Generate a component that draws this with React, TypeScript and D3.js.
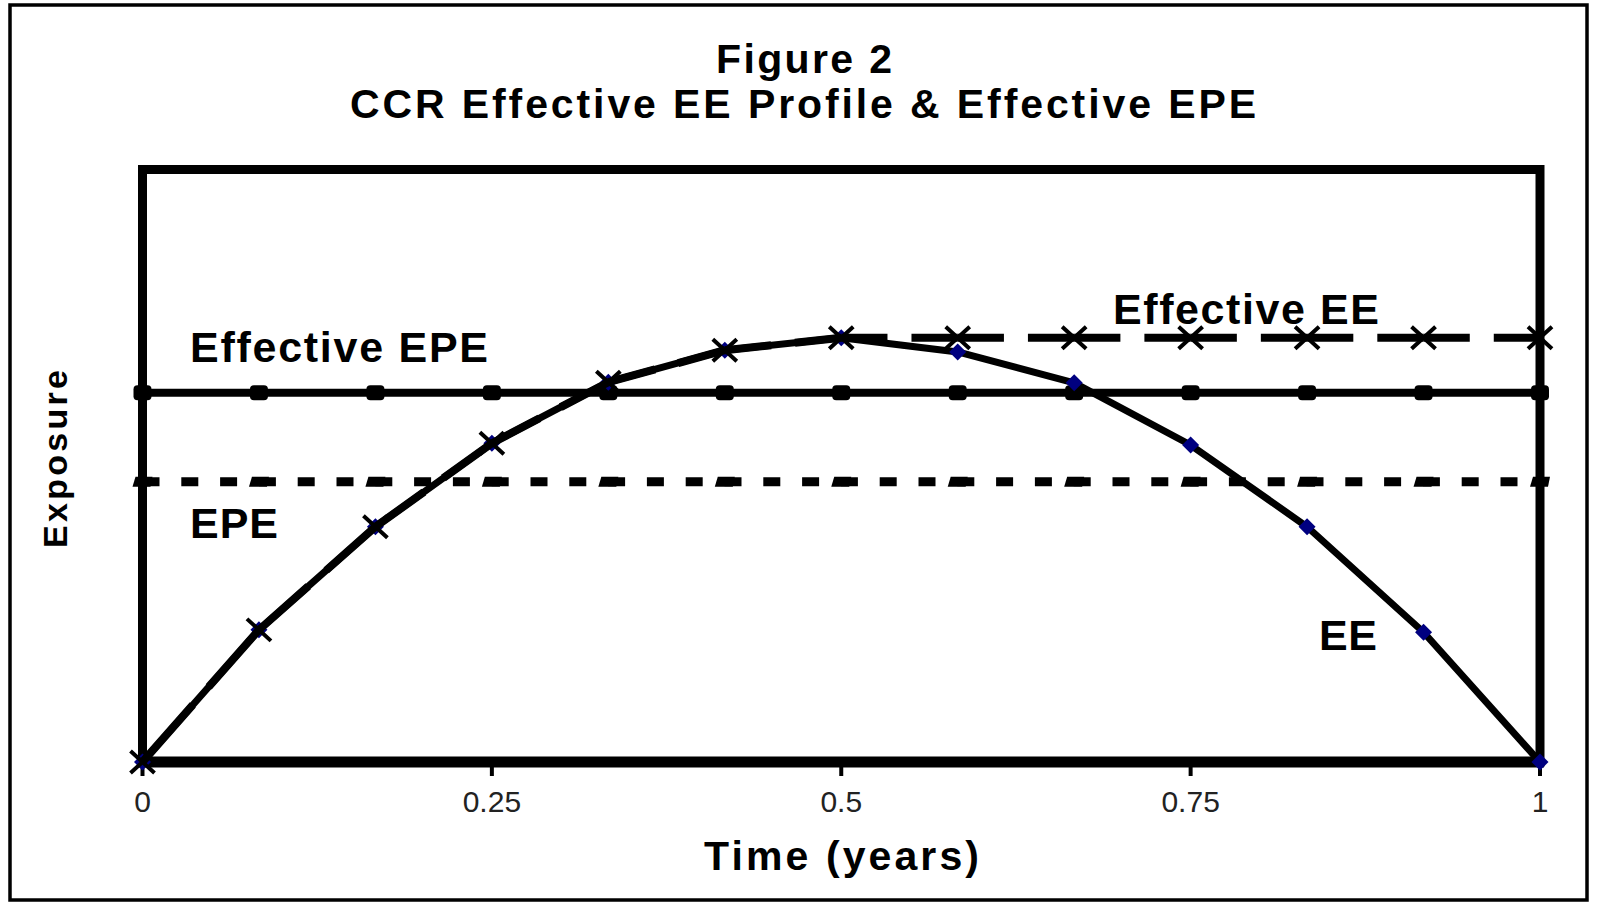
import React from 'react'
import * as d3 from 'd3'

// time points (years), monthly
const times = [0, 1 / 12, 2 / 12, 3 / 12, 4 / 12, 5 / 12, 6 / 12, 7 / 12, 8 / 12, 9 / 12, 10 / 12, 11 / 12, 1]
// exposure values (arbitrary units, 0..100 = plot height)
const ee = [0, 22.3, 39.7, 53.8, 64.1, 69.5, 71.6, 69.2, 64.0, 53.5, 39.7, 21.9, 0]
const effectiveEE = [0, 22.3, 39.7, 53.8, 64.1, 69.5, 71.6, 71.6, 71.6, 71.6, 71.6, 71.6, 71.6]
const effectiveEPE = [62.3, 62.3, 62.3, 62.3, 62.3, 62.3, 62.3, 62.3, 62.3, 62.3, 62.3, 62.3, 62.3]
const epe = [47.3, 47.3, 47.3, 47.3, 47.3, 47.3, 47.3, 47.3, 47.3, 47.3, 47.3, 47.3, 47.3]
const xTicks = [0, 0.25, 0.5, 0.75, 1]

const W = 1604
const H = 904
const FONT = '"Liberation Sans", Arial, sans-serif'

export default function App() {
  const x = d3.scaleLinear().domain([0, 1]).range([142.5, 1540])
  const y = d3.scaleLinear().domain([0, 100]).range([762, 169.5])

  const pts = (vals: number[]) => times.map((t, i) => [x(t), y(vals[i])] as [number, number])
  const line = d3.line<[number, number]>()

  const eePts = pts(ee)
  const effEEPts = pts(effectiveEE)
  const effEPEPts = pts(effectiveEPE)
  const epePts = pts(epe)

  // dashed Effective EE: one segment per interval, gap in the middle
  const gap = 24
  const effEESegs = effEEPts.slice(1).map((p, i) => {
    const a = effEEPts[i]
    const len = Math.hypot(p[0] - a[0], p[1] - a[1])
    return { d: line([a, p]), dash: `${(len - gap) / 2} ${gap} ${len}` }
  })

  return (
    <svg width={W} height={H} style={{ position: 'absolute', left: 0, top: 0, background: '#fff' }}>
      <rect x={0} y={0} width={W} height={H} fill="#fff" />
      {/* outer border */}
      <rect x={10} y={5} width={1577} height={895} fill="none" stroke="#000" strokeWidth={3.5} />

      {/* titles */}
      <text x={716} y={73} fontFamily={FONT} fontWeight="bold" fontSize={41} textLength={176} lengthAdjust="spacing">Figure 2</text>
      <text x={350} y={118} fontFamily={FONT} fontWeight="bold" fontSize={41} textLength={906} lengthAdjust="spacing">
        CCR Effective EE Profile &amp; Effective EPE
      </text>

      {/* plot frame */}
      <rect x={x(0)} y={y(100)} width={x(1) - x(0)} height={y(0) - y(100)} fill="none" stroke="#000" strokeWidth={9} />
      <line x1={x(0) - 4} x2={x(1) + 4} y1={y(0)} y2={y(0)} stroke="#000" strokeWidth={11} />

      {/* x ticks */}
      {xTicks.map((t) => (
        <g key={t}>
          <line x1={x(t)} x2={x(t)} y1={y(0)} y2={y(0) + 14} stroke="#000" strokeWidth={4} />
          <text x={x(t)} y={812} textAnchor="middle" fontFamily={FONT} fontSize={30} fill="#222">
            {d3.format('~g')(t)}
          </text>
        </g>
      ))}

      {/* EPE dotted */}
      <path d={line(epePts) || ''} fill="none" stroke="#000" strokeWidth={9} strokeDasharray="17 21.8" />
      {epePts.map((p, i) => (
        <path key={i} transform={`translate(${p[0]},${p[1]})`} d="M-7,-5 L10,-5 L8,5 L-10,5 Z" fill="#000" />
      ))}

      {/* Effective EPE solid */}
      <path d={line(effEPEPts) || ''} fill="none" stroke="#000" strokeWidth={8} />
      {effEPEPts.map((p, i) => (
        <rect key={i} x={p[0] - 9} y={p[1] - 7.5} width={18} height={15} rx={4} fill="#000" />
      ))}

      {/* EE curve */}
      <path d={line(eePts) || ''} fill="none" stroke="#000" strokeWidth={7} strokeLinejoin="round" />
      {eePts.map((p, i) => (
        <path key={i} transform={`translate(${p[0]},${p[1]})`} d="M0,-8.5 L8.5,0 L0,8.5 L-8.5,0 Z" fill="#000080" />
      ))}

      {/* Effective EE dashed */}
      {effEESegs.map((s, i) => (
        <path key={i} d={s.d || ''} fill="none" stroke="#000" strokeWidth={8} strokeDasharray={s.dash} />
      ))}
      {effEEPts.map((p, i) => (
        <path key={i} transform={`translate(${p[0]},${p[1]})`} d="M-12,-11 L12,11 M12,-11 L-12,11" stroke="#000" strokeWidth={4} />
      ))}

      {/* series labels */}
      <text x={190} y={362} fontFamily={FONT} fontWeight="bold" fontSize={43} textLength={298} lengthAdjust="spacing">Effective EPE</text>
      <text x={190} y={538} fontFamily={FONT} fontWeight="bold" fontSize={43} textLength={88} lengthAdjust="spacing">EPE</text>
      <text x={1113} y={324} fontFamily={FONT} fontWeight="bold" fontSize={43} textLength={266} lengthAdjust="spacing">Effective EE</text>
      <text x={1319} y={650} fontFamily={FONT} fontWeight="bold" fontSize={43} textLength={58} lengthAdjust="spacing">EE</text>

      {/* axis titles */}
      <text x={704} y={870} fontFamily={FONT} fontWeight="bold" fontSize={41} textLength={275} lengthAdjust="spacing">Time (years)</text>
      <text transform="translate(67,548) rotate(-90)" fontFamily={FONT} fontWeight="bold" fontSize={34} textLength={178} lengthAdjust="spacing">Exposure</text>
    </svg>
  )
}
